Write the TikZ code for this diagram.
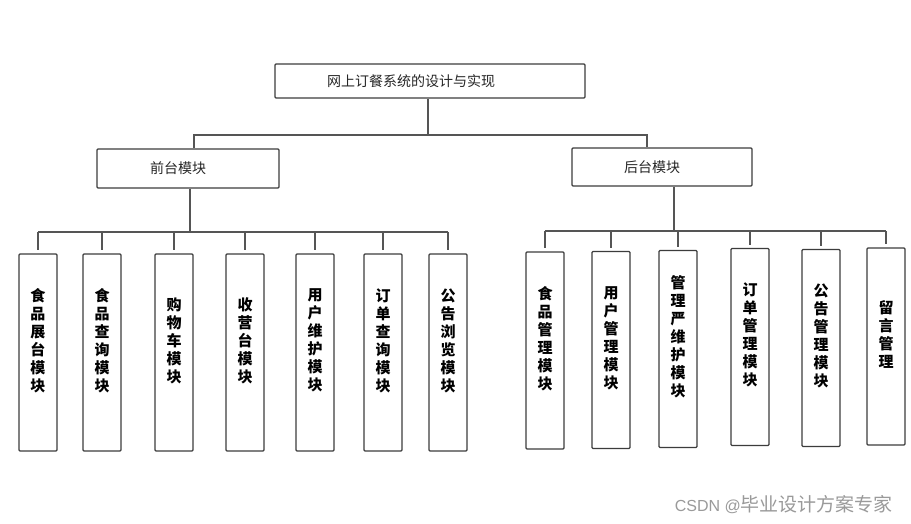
\documentclass[tikz,border=0pt]{standalone}
\usepackage{fontspec}
\newfontfamily\cjk{Noto Sans CJK SC}
\newfontfamily\latin{Liberation Sans}
\usetikzlibrary{positioning}

\definecolor{boxgray}{HTML}{3C3C3C}
\definecolor{linegray}{HTML}{555555}
\definecolor{markgray}{HTML}{9A9A9A}

\tikzset{
	box/.style={draw=boxgray,line width=1.3pt,rounded corners=1pt,inner sep=0pt,fill=white},
	modbox/.style={box,minimum width=38pt,minimum height=197pt},
	link/.style={draw=linegray,line width=1.5pt},
	head/.style={font=\cjk\fontsize{14}{16}\selectfont,text=black!85},
	vtext/.style={font=\cjk\bfseries\fontsize{15}{18}\selectfont,align=center,inner sep=0pt}
}

\begin{document}
\begin{tikzpicture}[x=1pt,y=-1pt]
	\useasboundingbox[fill=white] (0,0) rectangle (911,524);

	\node[box,minimum width=310pt,minimum height=34pt] (top) at (430,81) {};
	\node[head] (topT) at ([xshift=-19pt]top.center) {网上订餐系统的设计与实现};

	\node[box,minimum width=182pt,minimum height=39pt] (front) at (188,168.5) {};
	\node[head] (frontT) at ([xshift=-10pt]front.center) {前台模块};
	\node[box,minimum width=180pt,minimum height=38pt] (back) at (662,167) {};
	\node[head] (backT) at ([xshift=-10pt]back.center) {后台模块};

	\coordinate (busTop) at (428,135);
	\coordinate (busL) at (190,232);
	\coordinate (busR) at (674,231);

	\draw[link] (top.south -| busTop) -- (busTop);
	\draw[link] (front.north -| 194,0) |- (busTop) -| (back.north -| 647,0);
	\draw[link] (front.south -| busL) -- (busL);
	\draw[link] (back.south -| busR) -- (busR);

	% front modules
	\foreach \x/\t [count=\n] in {38/{食\\品\\展\\台\\模\\块},102/{食\\品\\查\\询\\模\\块},174/{购\\物\\车\\模\\块},
		245/{收\\营\\台\\模\\块},315/{用\\户\\维\\护\\模\\块},383/{订\\单\\查\\询\\模\\块},448/{公\\告\\浏\\览\\模\\块}}
	{
		\node[modbox] (L\n) at (\x,352.5) {};
		\node[vtext] (LT\n) at ([yshift=12pt]L\n.center) {\t};
		\draw[link,shorten >=3pt] (L\n.north |- busL) -- (L\n.north);
	}
	\draw[link] (L1.north |- busL) -- (L7.north |- busL);

	% back modules
	\foreach \x/\y/\t [count=\n] in {545/350.5/{食\\品\\管\\理\\模\\块},611/350/{用\\户\\管\\理\\模\\块},678/349/{管\\理\\严\\维\\护\\模\\块},
		750/347/{订\\单\\管\\理\\模\\块},821/348/{公\\告\\管\\理\\模\\块},886/346.5/{留\\言\\管\\理}}
	{
		\node[modbox] (R\n) at (\x,\y) {};
		\node[vtext] (RT\n) at ([yshift=12pt]R\n.center) {\t};
		\draw[link,shorten >=3pt] (R\n.north |- busR) -- (R\n.north);
	}
	\draw[link] (R1.north |- busR) -- (R6.north |- busR);

	\node[anchor=east,text=markgray,inner sep=0pt] (mark) at (893,505)
		{{\latin\fontsize{16}{18}\selectfont CSDN @}{\cjk\fontsize{19}{20}\selectfont 毕业设计方案专家}};
\end{tikzpicture}
\end{document}
